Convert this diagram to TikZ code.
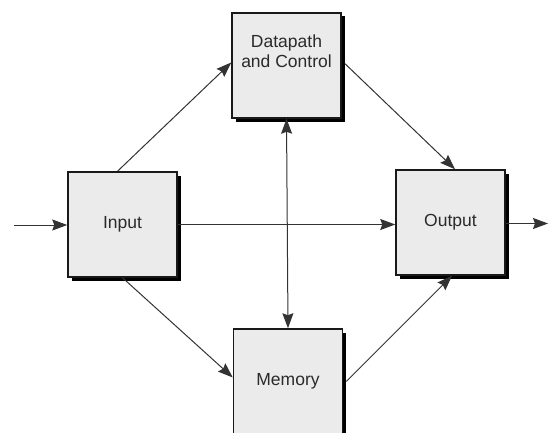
\documentclass[tikz,border=0pt]{standalone}
\usepackage{fontspec}
\setmainfont{Liberation Sans}
\usetikzlibrary{arrows.meta,shadows}
\definecolor{boxfill}{HTML}{EBEBEB}
\definecolor{wire}{HTML}{333333}
\definecolor{txt}{HTML}{2A2A2A}
\tikzset{
  unit/.style={draw=black!90, line width=1.5pt, fill=boxfill,
    minimum width=109pt, minimum height=105pt, inner sep=0pt,
    align=center, text=txt,
    font=\fontsize{17.5}{20}\selectfont,
    drop shadow={shadow xshift=3.5pt, shadow yshift=-3.5pt, fill=black, opacity=1}},
  wirearrow/.style={draw=wire, line width=1pt, -{Stealth[length=15pt,width=11pt,inset=2pt]}},
  wireboth/.style={draw=wire, line width=1pt,
    {Stealth[length=15pt,width=11pt,inset=2pt]}-{Stealth[length=15pt,width=11pt,inset=2pt]}}
}
\begin{document}
\begin{tikzpicture}[x=1pt,y=-1pt]
\useasboundingbox (0,0) rectangle (548,433);
\node[unit] (dp) at (286.5,65.5) {Datapath\\and Control\\[8pt]};
\node[unit] (in) at (122.5,224.5) {Input};
\node[unit] (out) at (450.5,222.5) {Output};
\node[unit] (mem) at (288,381.5) {Memory};
\coordinate (src) at (14,225);
\coordinate (snk) at (548,223.5);
\draw[wirearrow] (src) -- (in.west |- src);
\draw[wirearrow] (out.east |- snk) -- (snk);
\draw[wirearrow] (in.east) -- (in.east -| out.west);
\draw[wireboth] (dp.south) -- (mem.north);
\draw[wirearrow] ([xshift=-5pt]in.north) -- ([yshift=3pt]dp.west);
\draw[wirearrow] ([xshift=3pt,yshift=2pt]dp.east) -- ([xshift=4.5pt]out.north);
\draw[wirearrow] (in.south) -- ([yshift=4pt]mem.west);
\draw[wirearrow] ([xshift=3pt]mem.east) -- ([xshift=1.5pt]out.south);
\end{tikzpicture}
\end{document}
